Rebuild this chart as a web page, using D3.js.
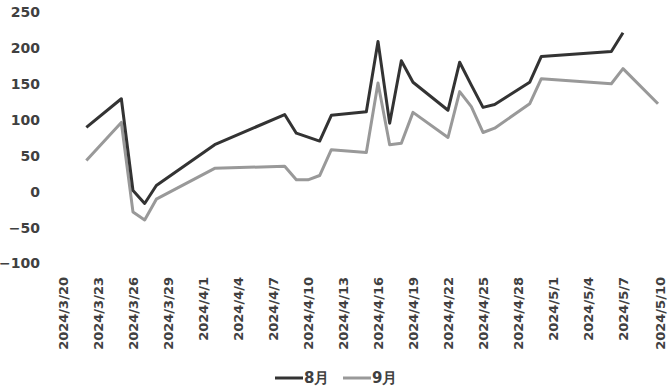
<!DOCTYPE html>
<html><head><meta charset="utf-8">
<script src="https://cdn.jsdelivr.net/npm/d3@7/dist/d3.min.js"></script>
<style>
html,body{margin:0;padding:0;background:#fff;}
text{font-family:"DejaVu Sans",sans-serif;font-weight:bold;fill:#404040;}
</style></head>
<body><svg id="c" width="668" height="390"></svg>
<script>
const dates8 = ["2024-03-22","2024-03-25","2024-03-26","2024-03-27","2024-03-28","2024-04-02","2024-04-08","2024-04-09","2024-04-11","2024-04-12","2024-04-15","2024-04-16","2024-04-17","2024-04-18","2024-04-19","2024-04-22","2024-04-23","2024-04-24","2024-04-25","2024-04-26","2024-04-29","2024-04-30","2024-05-06","2024-05-07"];
const values8 = [89,129,1,-17,8,65,107,81,70,106,111,209,95,182,152,113,180,148,117,121,152,188,195,221];
const dates9 = ["2024-03-22","2024-03-25","2024-03-26","2024-03-27","2024-03-28","2024-04-02","2024-04-08","2024-04-09","2024-04-10","2024-04-11","2024-04-12","2024-04-15","2024-04-16","2024-04-17","2024-04-18","2024-04-19","2024-04-22","2024-04-23","2024-04-24","2024-04-25","2024-04-26","2024-04-29","2024-04-30","2024-05-06","2024-05-07","2024-05-10"];
const values9 = [43,96,-29,-40,-11,32,35,16,16,22,58,54,151,65,67,110,75,139,118,82,88,122,157,150,171,122];
const yTicks = [-100,-50,0,50,100,150,200,250];
const xTickLabels = ["2024/3/20","2024/3/23","2024/3/26","2024/3/29","2024/4/1","2024/4/4","2024/4/7","2024/4/10","2024/4/13","2024/4/16","2024/4/19","2024/4/22","2024/4/25","2024/4/28","2024/5/1","2024/5/4","2024/5/7","2024/5/10"];
const seriesNames = ["8月","9月"];

const parse = d3.timeParse("%Y-%m-%d");
const parseTick = d3.timeParse("%Y/%m/%d");
const svg = d3.select("#c");
const x = d3.scaleTime().domain([parse("2024-03-20"), parse("2024-05-10")]).range([63, 658]);
const y = d3.scaleLinear().domain([-100, 250]).range([263, 12]);

const yAxis = d3.axisLeft(y).tickValues(yTicks).tickSize(0).tickPadding(0);
const gy = svg.append("g").attr("transform","translate(40,0)").call(yAxis);
gy.select(".domain").remove();
gy.selectAll("text").style("font-size","14px").attr("dy","0.35em").attr("fill","#404040");

const xAxis = d3.axisBottom(x).tickValues(xTickLabels.map(parseTick)).tickFormat((d,i)=>xTickLabels[i]).tickSize(0).tickPadding(0);
const gx = svg.append("g").attr("transform","translate(0,277)").call(xAxis);
gx.select(".domain").remove();
gx.selectAll("text").style("font-size","13px").attr("fill","#404040")
  .attr("text-anchor","end").attr("transform","rotate(-90)").attr("x",0).attr("y",0).attr("dy","0.36em");
gx.selectAll(".tick").filter((d,i)=>i===xTickLabels.length-1).attr("transform",function(){
  const t=d3.select(this).attr("transform"); return t.replace(/translate\(([\d.]+)/,(m,a)=>"translate("+(+a+1.5));
});

const line = d3.line().x(d=>x(d[0])).y(d=>y(d[1]));
const s8 = dates8.map((d,i)=>[parse(d), values8[i]]);
const s9 = dates9.map((d,i)=>[parse(d), values9[i]]);
svg.append("path").datum(s9).attr("d",line).attr("fill","none").attr("stroke","#999").attr("stroke-width",3).attr("stroke-linejoin","round");
svg.append("path").datum(s8).attr("d",line).attr("fill","none").attr("stroke","#333").attr("stroke-width",3).attr("stroke-linejoin","round");

const leg = [{name:seriesNames[0], color:"#333", x:275},{name:seriesNames[1], color:"#999", x:343}];
const lg = svg.append("g");
leg.forEach(l=>{
  lg.append("line").attr("x1",l.x).attr("x2",l.x+28).attr("y1",378).attr("y2",378).attr("stroke",l.color).attr("stroke-width",3);
  lg.append("text").attr("x",l.x+29).attr("y",378).attr("dy","0.36em").style("font-size","15px").text(l.name);
});
</script></body></html>
